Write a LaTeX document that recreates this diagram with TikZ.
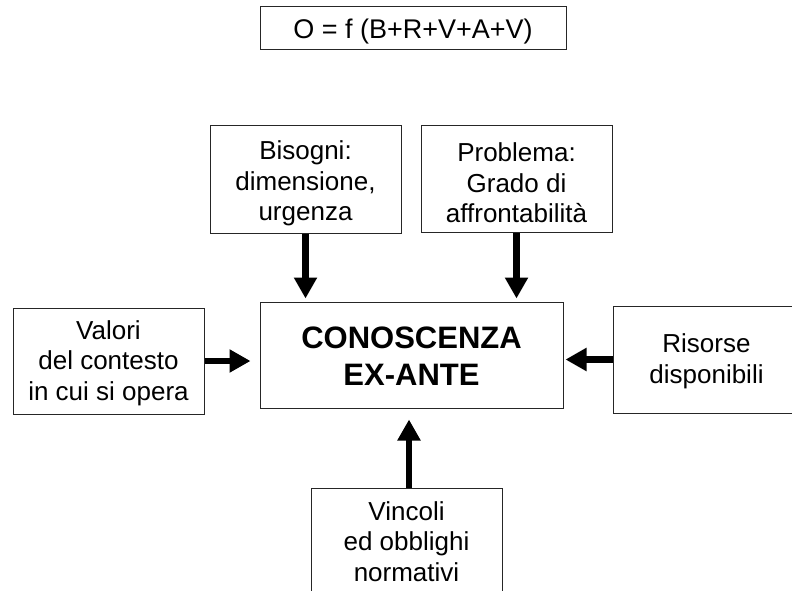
\documentclass[tikz,border=0pt]{standalone}
\usepackage{fontspec}
\setmainfont{Liberation Sans}
\usetikzlibrary{arrows.meta}
\begin{document}
\begin{tikzpicture}[x=1pt,y=-1pt,
  box/.style={draw=black!85, line width=1pt, inner sep=0pt,
    minimum width=191pt, minimum height=107pt},
  corebox/.style={box, minimum width=303pt, minimum height=106pt},
  formula/.style={box, minimum width=306pt, minimum height=43pt},
  txt/.style={align=center, inner sep=0pt, font=\fontsize{26}{30.5}\selectfont},
  coretxt/.style={txt, font=\fontsize{31}{37}\selectfont\bfseries},
  formulatxt/.style={txt, font=\fontsize{27}{30}\selectfont},
  bigarrow/.style={line width=6.5pt,
    -{Triangle[width=22pt,length=21pt]}}]
  \useasboundingbox (0,0) rectangle (792,591);
  \begin{scope}
    \clip (0,0) rectangle (792,591);
    % frames
    \node[formula] (formula) at (413,28.5) {};
    \node[corebox] (core) at (411.5,355) {};
    \node[box] (bisogni) at (305.5,179.5) {};
    \node[box, minimum height=106pt] (problema) at (516.5,179) {};
    \node[box, minimum height=106pt] (valori) at (108.5,361) {};
    \node[box] (risorse) at (708.5,359.5) {};
    \node[box] (vincoli) at (406.5,541.5) {};
    % texts
    \node[formulatxt] (formula-t) at ([yshift=-3pt]formula.center) {O = f (B+R+V+A+V)};
    \node[coretxt] (core-t) at ([yshift=-1pt]core.center) {CONOSCENZA\\EX-ANTE};
    \node[txt] (bisogni-t) at ([yshift=-4pt]bisogni.center) {Bisogni:\\dimensione,\\urgenza};
    \node[txt] (problema-t) at ([yshift=-4pt]problema.center) {Problema:\\Grado di\\affrontabilità};
    \node[txt] (valori-t) at ([yshift=-2pt]valori.center) {Valori\\del contesto\\in cui si opera};
    \node[txt] (risorse-t) at ([xshift=-2pt,yshift=-2pt]risorse.center) {Risorse\\disponibili};
    \node[txt] (vincoli-t) at (vincoli.center) {Vincoli\\ed obblighi\\normativi};
  \end{scope}
  % arrows into the central node
  \draw[bigarrow] (bisogni.south) -- ([yshift=3pt]bisogni.south |- core.north);
  \draw[bigarrow] (problema.south) -- ([yshift=3pt]problema.south |- core.north);
  \draw[bigarrow] (valori.east) -- ([xshift=-9pt]core.west |- valori.east);
  \draw[bigarrow] (risorse.west) -- ([xshift=2pt]core.east |- risorse.west);
  \draw[bigarrow] ([xshift=2.5pt]vincoli.north) -- ([xshift=2.5pt,yshift=-11pt]vincoli.north |- core.south);
\end{tikzpicture}
\end{document}
